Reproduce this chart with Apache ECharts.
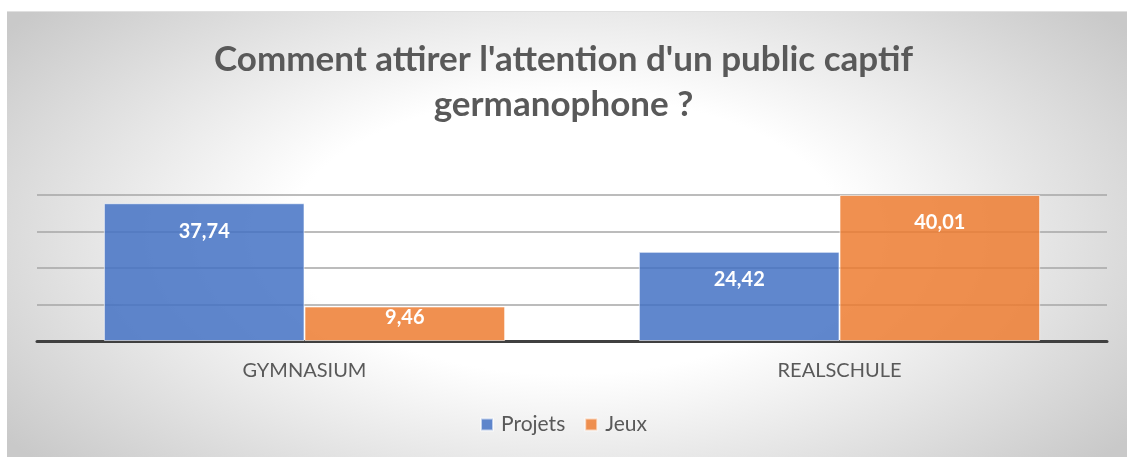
<!DOCTYPE html>
<html>
<head>
<meta charset="utf-8">
<script src="https://cdn.jsdelivr.net/npm/echarts@6/dist/echarts.min.js"></script>
<style>
  html, body { margin: 0; padding: 0; background: #fff; }
  #wrap {
    position: absolute; left: 7px; top: 11px; width: 1120px; height: 446px;
    border-top: 1px solid #e0e0e0;
    background: radial-gradient(ellipse 62% 78% at 50% 50%, #ffffff 0%, #ffffff 40%, #c9c9c9 100%);
  }
  #zhu { position: absolute; left: -7px; top: -11px; width: 1127px; height: 457px; }
</style>
</head>
<body>
<div id="wrap"><div id="zhu"></div></div>
<script>
  // donnees
  let categories = ['GYMNASIUM', 'REALSCHULE'];
  let projets = [37.74, 24.42];
  let jeux = [9.46, 40.01];
  let seriesNames = ['Projets', 'Jeux'];

  let font = 'Lato';

  function labelFor(v){
    // petite barre : etiquette plus proche du haut
    return v < 12 ? {distance: 1} : {distance: 18};
  }

  function makeData(arr){
    let out = [];
    for (let i = 0; i < arr.length; i++) {
      out.push({value: arr[i], label: labelFor(arr[i])});
    }
    return out;
  }

  let chartDom = document.getElementById('zhu');
  let myChart = echarts.init(chartDom);
  let option = {
    animation: false,
    backgroundColor: 'transparent',
    title: {
      text: "Comment attirer l'attention d'un public captif\ngermanophone ?",
      left: 'center',
      top: 31,
      textStyle: {
        fontFamily: font,
        fontWeight: 'bold',
        fontSize: 35,
        color: '#595959',
        lineHeight: 45
      }
    },
    legend: {
      data: seriesNames,
      bottom: 18,
      left: 'center',
      itemWidth: 12,
      itemHeight: 12,
      itemGap: 19,
      icon: 'rect',
      textStyle: {fontFamily: font, fontSize: 21, color: '#595959', padding: [0, 0, 0, 3]}
    },
    grid: {
      left: 37,
      right: 20,
      top: 194,
      bottom: 117
    },
    xAxis: {
      type: 'category',
      data: categories,
      axisLine: {show: true, lineStyle: {color: '#404040', width: 3}},
      axisTick: {show: false},
      axisLabel: {fontFamily: font, fontSize: 20, color: '#595959', margin: 20}
    },
    yAxis: {
      type: 'value',
      min: 0,
      max: 40,
      interval: 10,
      axisLabel: {show: false},
      axisLine: {show: false},
      axisTick: {show: false},
      splitLine: {lineStyle: {color: '#a6a6a6', width: 1.5}}
    },
    series: [
      {
        name: seriesNames[0],
        type: 'bar',
        barGap: '0%',
        barCategoryGap: '25%',
        itemStyle: {color: 'rgba(68,114,196,0.85)', borderColor: 'rgba(255,255,255,0.6)', borderWidth: 1},
        label: {
          show: true,
          position: 'insideTop',
          formatter: p => p.value.toFixed(2).replace('.', ','),
          fontFamily: font, fontWeight: 'bold', fontSize: 20, color: '#ffffff'
        },
        data: makeData(projets)
      },
      {
        name: seriesNames[1],
        type: 'bar',
        itemStyle: {color: 'rgba(237,125,49,0.85)', borderColor: 'rgba(255,255,255,0.6)', borderWidth: 1},
        label: {
          show: true,
          position: 'insideTop',
          formatter: p => p.value.toFixed(2).replace('.', ','),
          fontFamily: font, fontWeight: 'bold', fontSize: 20, color: '#ffffff'
        },
        data: makeData(jeux)
      }
    ]
  };
  option && myChart.setOption(option);
</script>
</body>
</html>
